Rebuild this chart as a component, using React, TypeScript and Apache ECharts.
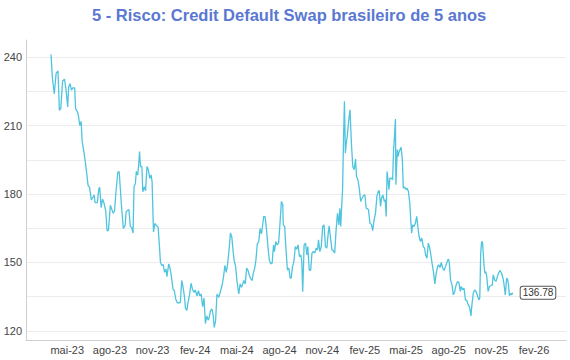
import React, { useEffect, useRef } from "react";
import * as echarts from "echarts";

const chartTitle = "5 - Risco: Credit Default Swap brasileiro de 5 anos";
const seriesName = "CDS 5 anos";
// Observation dates, as day offsets from 2023-05-01
const startYear = 2023;
const startMonthIndex = 4; // May
const dayOffsets = [
  -35, -32, -28, -24, -20, -17, -14, -10, -6, -3, 1, 3, 6, 9, 12, 16, 18, 22, 24, 27, 30, 32, 36, 40, 45, 48, 52, 55, 58, 60,
  65, 68, 70, 73, 76, 79, 83, 86, 89, 93, 96, 99, 102, 105, 109, 112, 117, 121, 125, 127, 130, 133, 136, 139, 142, 144, 147, 149, 152, 154,
  156, 158, 161, 163, 166, 169, 172, 175, 178, 181, 183, 186, 189, 192, 196, 199, 201, 204, 207, 210, 213, 215, 219, 222, 225, 228, 231, 234, 237, 240,
  244, 247, 250, 253, 255, 258, 261, 264, 267, 270, 273, 276, 280, 283, 286, 289, 292, 295, 298, 301, 304, 306, 309, 312, 315, 317, 320, 323, 327, 330,
  334, 337, 340, 343, 346, 349, 352, 355, 358, 360, 363, 366, 370, 373, 376, 378, 381, 384, 387, 390, 393, 396, 399, 401, 404, 407, 410, 413, 416, 419,
  422, 424, 427, 430, 433, 436, 439, 442, 445, 447, 450, 453, 456, 459, 462, 465, 466, 469, 472, 475, 478, 481, 483, 486, 489, 492, 495, 498, 501, 504,
  506, 508, 511, 514, 517, 519, 522, 525, 528, 531, 534, 537, 540, 542, 545, 548, 551, 554, 557, 560, 563, 565, 568, 571, 574, 577, 580, 583, 586, 588,
  590, 592, 594, 596, 598, 600, 602, 604, 607, 610, 613, 616, 619, 622, 624, 627, 630, 633, 636, 639, 642, 645, 648, 650, 653, 656, 659, 662, 665, 668,
  671, 673, 676, 678, 681, 684, 686, 688, 690, 692, 694, 696, 699, 702, 704, 706, 708, 709, 712, 714, 716, 718, 720, 723, 725, 728, 731, 733, 736, 739,
  741, 743, 745, 748, 751, 754, 756, 759, 762, 765, 768, 771, 773, 776, 779, 782, 785, 787, 790, 793, 796, 799, 801, 804, 807, 810, 813, 816, 819, 822,
  824, 827, 830, 833, 836, 839, 842, 845, 848, 850, 853, 856, 859, 862, 865, 868, 871, 873, 876, 879, 882, 885, 888, 890, 892, 894, 896, 899, 901, 903,
  905, 908, 911, 914, 917, 919, 922, 925, 928, 931, 934, 937, 940, 942, 945, 948, 950, 952, 954, 957, 959, 961,
];
const cdsValues = [
  241.3, 230.7, 224, 233, 234, 216.8, 217.5, 229.6, 230.4, 226.3, 218.2, 227, 228.5, 225.6, 226.6, 226.6, 217.5, 216, 214.6, 210.1, 211.9, 203.5, 198.4, 192.5, 183.7, 183, 177.5, 178.5, 179.6, 176.3,
  176.3, 182.2, 183, 174.1, 177.8, 176.3, 172.6, 163.8, 164.3, 175.1, 173.4, 171.6, 172.6, 180.7, 189.6, 189.9, 174.8, 164.9, 166.3, 172.2, 172.9, 173.2, 165.9, 165.3, 162.9, 183.2, 184.7, 189.9, 188.4, 192.8,
  198.7, 192.1, 192.1, 181, 183.2, 181.5, 192.1, 190.6, 186.9, 188.4, 185.4, 163.4, 167.1, 166.3, 165.6, 156.8, 150.1, 148.7, 149.1, 145.7, 147.2, 143.8, 149.4, 147.2, 143.5, 138.4, 137.6, 134, 132.5, 132.2,
  132.5, 142.1, 139.1, 134.7, 130, 129, 133, 135.9, 140.9, 138.4, 136.9, 137.9, 135.4, 137.6, 135.4, 136.2, 130.6, 134.4, 123.2, 126.6, 124.7, 125.6, 128.8, 129.6, 126.6, 121.5, 124.4, 136.2, 134.7, 136.9,
  139.9, 143.5, 148.7, 145.7, 149.4, 155.3, 162.9, 161.2, 154.6, 150.9, 148.7, 142.1, 136.2, 140.6, 139.1, 140.3, 142.1, 140.6, 147.6, 146.5, 144.3, 142.8, 142.1, 145, 147.2, 150.9, 158.2, 159, 164.9, 162.6,
  167.1, 170.3, 170, 164.1, 156.8, 150.9, 149.4, 149.7, 157.7, 154.8, 159.2, 157.7, 158.5, 167.2, 176.8, 175.3, 166.5, 165.8, 155.5, 146.7, 147.5, 143.1, 143.1, 148.2, 150.4, 157, 155.8, 157.7, 152.6, 153.3,
  150.4, 137.2, 157.7, 158.5, 153.3, 157, 146.7, 146.5, 154.1, 154.8, 154.1, 156.3, 155.5, 159.9, 154.8, 157, 165.8, 166.5, 157, 156.3, 162.9, 166.1, 160.7, 155.5, 155.2, 154.1, 164.3, 171.6, 166.5, 173.8,
  165.8, 174.6, 181.9, 203.9, 220.7, 198, 202.4, 205.3, 211.9, 217, 202.4, 192.1, 190.7, 195.4, 187.7, 186.3, 182.6, 176.8, 178.2, 179.3, 179.7, 173.8, 173.5, 173.1, 167.2, 166.8, 164, 168.7, 171.6, 179,
  181.2, 181.6, 174.6, 178.2, 179.7, 176.8, 177.5, 170.2, 189.9, 186.3, 181.9, 187, 187, 186.3, 199.5, 205.3, 212.9, 184.1, 199.5, 196.5, 198.7, 199.5, 200.6, 195.1, 182.6, 183.1, 181.9, 182.6, 181.2, 176,
  168.7, 162.9, 166.5, 165.8, 167.2, 170.2, 166.5, 161.4, 159.2, 160.7, 157, 156.3, 153.3, 151.9, 158.5, 156.3, 152.6, 149.7, 146, 140.6, 145.3, 148.2, 149, 147.8, 150, 147.5, 146.5, 148.2, 150, 151.5,
  150.4, 142.4, 140.2, 135.8, 137.3, 140.2, 141.7, 141.2, 137.3, 139.5, 138, 138.7, 133.6, 133.3, 131.4, 130.4, 126.6, 131.4, 136.5, 138, 137.3, 135.4, 133.6, 134.3, 154.1, 159.2, 158.8, 149, 145.3, 146,
  143.9, 137.3, 139.5, 139.8, 140.2, 144.6, 142.4, 141.7, 143.9, 145.6, 146.5, 145.3, 143.1, 140.9, 135.8, 143.1, 142.7, 140.2, 135.4, 136.5, 135.8, 136.78,
];
const xTickDates = [
  "2023-05-01", "2023-08-01", "2023-11-01", "2024-02-01", "2024-05-01", "2024-08-01",
  "2024-11-01", "2025-02-01", "2025-05-01", "2025-08-01", "2025-11-01", "2026-02-01",
];
const monthNames = ["jan", "fev", "mar", "abr", "mai", "jun", "jul", "ago", "set", "out", "nov", "dez"];
const xMin = "2023-02-01";
const xMax = "2026-04-11";
const yMin = 116;
const yMax = 247.6;
const yGridValues = [120, 135, 150, 165, 180, 195, 210, 225, 240];
const yLabelValues = [120, 150, 180, 210, 240];

const toTs = (s: string) => {
  const [y, m, d] = s.split("-").map(Number);
  return Date.UTC(y, m - 1, d);
};

export default function App() {
  const ref = useRef<HTMLDivElement>(null);
  useEffect(() => {
    if (!ref.current) return;
    const chart = echarts.init(ref.current, undefined, { renderer: "svg" });
    const data = dayOffsets.map((d, i) => [Date.UTC(startYear, startMonthIndex, 1 + d), cdsValues[i]]);
    const font = "'Liberation Sans', Arial, Helvetica, sans-serif";
    const tickTs = xTickDates.map(toTs);
    chart.setOption({
      animation: false,
      backgroundColor: "#ffffff",
      title: {
        text: chartTitle,
        left: 87,
        top: 1,
        textStyle: { fontSize: 16.5, fontWeight: "bold", color: "#5a78d2", fontFamily: font },
      },
      grid: { left: 26, right: 4, top: 40, bottom: 20, containLabel: false },
      xAxis: {
        type: "value",
        min: toTs(xMin),
        max: toTs(xMax),
        axisLine: { show: true, lineStyle: { color: "#cfcfcf", width: 1 } },
        axisTick: { show: false, customValues: tickTs },
        splitLine: { show: false },
        axisLabel: {
          customValues: tickTs,
          formatter: (v: number) => {
            const dt = new Date(v);
            return monthNames[dt.getUTCMonth()] + "-" + String(dt.getUTCFullYear()).slice(2);
          },
          color: "#444",
          fontSize: 11,
          fontFamily: font,
          margin: 4,
          hideOverlap: false,
        },
      },
      yAxis: {
        type: "value",
        min: yMin,
        max: yMax,
        axisLine: { show: true, lineStyle: { color: "#cfcfcf", width: 1 } },
        axisTick: { show: false, customValues: yGridValues },
        splitLine: { show: true, customValues: yGridValues, lineStyle: { color: "#ececec", width: 1 } },
        axisLabel: {
          customValues: yLabelValues,
          color: "#444",
          fontSize: 11,
          fontFamily: font,
          margin: 4,
        },
      },
      series: [
        {
          name: seriesName,
          type: "line",
          data,
          showSymbol: false,
          symbol: "none",
          lineStyle: { color: "#4fc4df", width: 1.3 },
          itemStyle: { color: "#4fc4df" },
          endLabel: {
            show: true,
            formatter: (p: any) => p.value[1].toFixed(2),
            distance: 8,
            color: "#333",
            fontSize: 10,
            fontFamily: font,
            backgroundColor: "#fff",
            borderColor: "#555",
            borderWidth: 1,
            borderRadius: 2,
            padding: [1, 2, 1, 2],
          },
        },
      ],
    });
    return () => chart.dispose();
  }, []);
  return <div ref={ref} style={{ position: "fixed", left: 0, top: 0, width: 570, height: 360 }} />;
}
